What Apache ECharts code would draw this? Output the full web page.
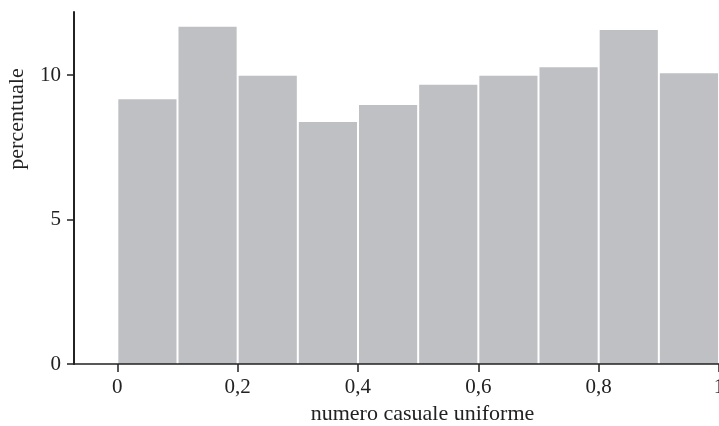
<!DOCTYPE html>
<html>
<head>
<meta charset="utf-8">
<script src="https://cdn.jsdelivr.net/npm/echarts@6/dist/echarts.min.js"></script>
<style>html,body{margin:0;padding:0;background:#fff}#c{width:719px;height:426px}</style>
</head>
<body>
<div id="c"></div>
<script>
var binStarts = [0, 0.1, 0.2, 0.3, 0.4, 0.5, 0.6, 0.7, 0.8, 0.9];
var binWidth = 0.1;
var percentuale = [9.16, 11.67, 9.97, 8.37, 8.96, 9.66, 9.97, 10.27, 11.56, 10.06];
var xTicks = [0, 0.2, 0.4, 0.6, 0.8, 1];
var yTicks = [0, 5, 10];

var font = 'Liberation Serif';
var data = binStarts.map(function (s, i) { return [s, s + binWidth, percentuale[i]]; });

var chart = echarts.init(document.getElementById('c'));
chart.setOption({
  animation: false,
  grid: { left: 74, right: 0, top: 12, bottom: 62, containLabel: false, outerBoundsMode: 'none' },
  xAxis: {
    type: 'value', min: -0.072, max: 1, z: 5,
    name: 'numero casuale uniforme', nameLocation: 'middle', nameGap: 38,
    nameTextStyle: { fontFamily: font, fontSize: 22, color: '#222', padding: [0, 0, 0, 52] },
    axisLine: { show: true, onZero: false, lineStyle: { color: '#222', width: 1.5 } },
    axisTick: { show: true, length: 8, customValues: xTicks, lineStyle: { color: '#222', width: 1.5 } },
    axisLabel: { customValues: xTicks, fontFamily: font, fontSize: 21, color: '#222', margin: 13,
      formatter: function (v) { return String(v).replace('.', ','); } },
    splitLine: { show: false }
  },
  yAxis: {
    type: 'value', min: 0, max: 12.18, z: 5,
    name: 'percentuale', nameLocation: 'middle', nameGap: 46,
    nameTextStyle: { fontFamily: font, fontSize: 22, color: '#222', padding: [0, 0, 0, 138] },
    axisLine: { show: true, onZero: false, lineStyle: { color: '#222', width: 2 } },
    axisTick: { show: true, length: 7, customValues: yTicks, lineStyle: { color: '#222', width: 1.5 } },
    axisLabel: { customValues: yTicks, fontFamily: font, fontSize: 21, color: '#222', margin: 13 },
    splitLine: { show: false }
  },
  series: [{
    type: 'custom',
    data: data,
    encode: { x: [0, 1], y: 2 },
    renderItem: function (params, api) {
      var p0 = api.coord([api.value(0), 0]);
      var p1 = api.coord([api.value(1), api.value(2)]);
      return {
        type: 'rect',
        shape: { x: p0[0] + 1, y: p1[1], width: p1[0] - p0[0] - 2, height: p0[1] - p1[1] },
        style: { fill: '#bfc0c4' }
      };
    }
  }]
});
</script>
</body>
</html>
